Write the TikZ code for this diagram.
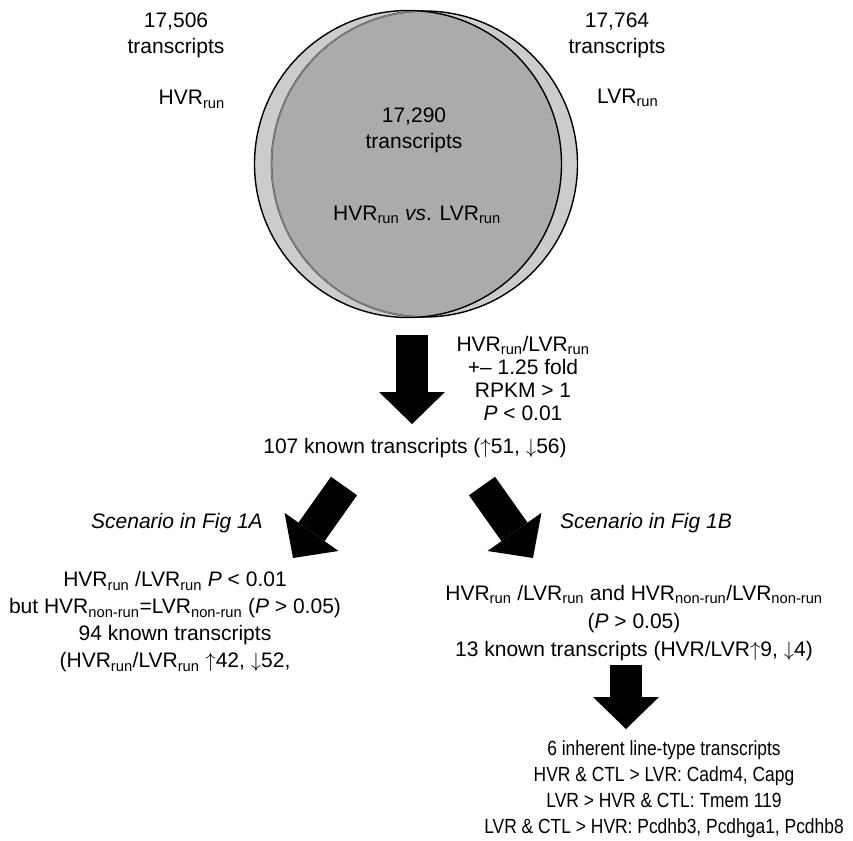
\documentclass[tikz,border=0pt]{standalone}
\usepackage{fontspec}
\setmainfont{Liberation Sans}
\newfontfamily\narrowfont[FakeStretch=0.85]{Liberation Sans}
\usetikzlibrary{arrows.meta}
\tikzset{>=Triangle}
\definecolor{lunegray}{gray}{0.80}
\definecolor{overlapgray}{gray}{0.67}
\newcommand{\hvrrun}{HVR\textsubscript{run}}
\newcommand{\lvrrun}{LVR\textsubscript{run}}
\newcommand{\hvrnon}{HVR\textsubscript{non-run}}
\newcommand{\lvrnon}{LVR\textsubscript{non-run}}
\newcommand{\upregul}{$\uparrow$}
\newcommand{\downregul}{$\downarrow$}

\begin{document}
\begin{tikzpicture}[x=1pt, y=-1pt,
  every node/.style={font=\fontsize{21}{26}\selectfont, inner sep=0pt, align=center},
  fatarrow/.style={line width=32pt, -{Triangle[width=66pt,length=32pt,line width=0pt]}}]
  \useasboundingbox (0,0) rectangle (853,840);
  % venn circles
  \coordinate (hvrc) at (408,164);
  \coordinate (lvrc) at (424.5,164);
  \fill[lunegray] (lvrc) circle (153pt);
  \fill[lunegray] (hvrc) circle (153.5pt);
  \begin{scope}
    \clip (hvrc) circle (153.5pt);
    \fill[overlapgray] (lvrc) circle (153pt);
  \end{scope}
  \draw[line width=1.4pt] (lvrc) circle (153pt);
  \begin{scope}
    \clip (hvrc) circle (153.5pt);
    \draw[gray, line width=1.4pt] (lvrc) circle (153pt);
  \end{scope}
  \draw[line width=1.4pt] (hvrc) circle (153.5pt);
  % set labels
  \node (hvrn) at (176,35) {17,506\\transcripts};
  \node[anchor=base east] (hvrlab) at (225,105) {\hvrrun};
  \node (lvrn) at (617,35) {17,764\\transcripts};
  \node[anchor=base west] (lvrlab) at (597,103) {\lvrrun};
  \node (common) at (414,130) {17,290\\transcripts};
  \node[anchor=base] (versus) at (417,220) {\hvrrun{} \textit{vs}. \lvrrun};
  % first filter
  \coordinate (a1s) at (412,335);
  \coordinate (a1e) at (412,424);
  \draw[fatarrow] (a1s) -- (a1e);
  \node[font=\fontsize{21}{23}\selectfont] (crit) at (523,378) {\hvrrun/\lvrrun\\+– 1.25 fold\\RPKM > 1\\\textit{P} < 0.01};
  \node (k107) at (415,448) {107 known transcripts (\upregul51, \downregul56)};
  % split into two scenarios
  \coordinate (l1s) at (344,486);
  \coordinate (l1e) at (293,558);
  \coordinate (r1s) at (482,486);
  \coordinate (r1e) at (533,558);
  \draw[fatarrow] (l1s) -- (l1e);
  \draw[fatarrow] (r1s) -- (r1e);
  \node (scA) at (177,523) {\itshape Scenario in Fig 1A};
  \node (scB) at (646,523) {\itshape Scenario in Fig 1B};
  \node[font=\fontsize{21}{27}\selectfont] (runonly) at (175,622) {\hvrrun{} /\lvrrun{} \textit{P} < 0.01\\but \hvrnon=\lvrnon{} (\textit{P} > 0.05)\\94 known transcripts\\(\hvrrun/\lvrrun{} \upregul42, \downregul52,};
  \node[font=\fontsize{21}{28}\selectfont] (both) at (634,623) {\hvrrun{} /\lvrrun{} and \hvrnon/\lvrnon\\(\textit{P} > 0.05)\\13 known transcripts (HVR/LVR\upregul9, \downregul4)};
  % line-type transcripts
  \coordinate (a3s) at (626,665);
  \coordinate (a3e) at (626,729);
  \draw[fatarrow] (a3s) -- (a3e);
  \node[font=\narrowfont\fontsize{20.5}{26}\selectfont] (inherent) at (664,789) {6 inherent line-type transcripts\\HVR \& CTL > LVR: Cadm4, Capg\\LVR > HVR \& CTL: Tmem 119\\LVR \& CTL > HVR: Pcdhb3, Pcdhga1, Pcdhb8};
\end{tikzpicture}
\end{document}
